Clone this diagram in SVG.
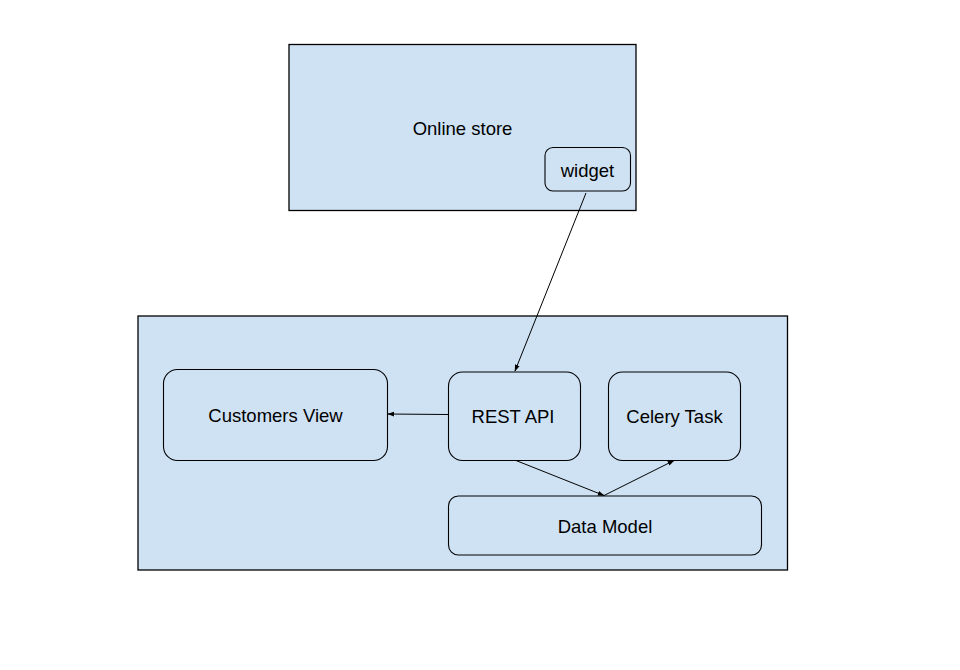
<svg xmlns="http://www.w3.org/2000/svg" width="960" height="670" viewBox="0 0 960 670">
<style>
.box{fill:#cfe2f3;stroke:#000;stroke-width:1.3}
.node{fill:#cfe2f3;stroke:#000;stroke-width:1.1}
.lbl{font-family:"Liberation Sans",Arial,sans-serif;font-size:18.5px;fill:#000;text-anchor:middle;dominant-baseline:central}
.conn{fill:none;stroke:#000;stroke-width:1;marker-end:url(#ah)}
</style>
<defs>
<marker id="ah" viewBox="0 0 10 10" refX="9" refY="5" markerWidth="7" markerHeight="7" orient="auto" markerUnits="userSpaceOnUse">
<path d="M0,1.5 L10,5 L0,8.5 z" fill="#000"/>
</marker>
</defs>
<rect width="960" height="670" fill="#fff"/>
<g id="online-store">
<rect class="box" x="289" y="44.5" width="347" height="166"/>
<text class="lbl" x="462.5" y="128">Online store</text>
</g>
<g id="widget">
<rect class="node" x="545" y="147.5" width="85.5" height="43.5" rx="8"/>
<text class="lbl" x="587.5" y="170">widget</text>
</g>
<g id="backend">
<rect class="box" x="138" y="316" width="649.5" height="254"/>
</g>
<g id="customers-view">
<rect class="node" x="163.5" y="369.5" width="224" height="91" rx="14"/>
<text class="lbl" x="275.5" y="415">Customers View</text>
</g>
<g id="rest-api">
<rect class="node" x="448.5" y="372" width="132" height="88.5" rx="14"/>
<text class="lbl" x="513" y="416">REST API</text>
</g>
<g id="celery-task">
<rect class="node" x="608.5" y="372" width="132" height="88.5" rx="14"/>
<text class="lbl" x="674.5" y="416">Celery Task</text>
</g>
<g id="data-model">
<rect class="node" x="448.5" y="496" width="313" height="59" rx="10"/>
<text class="lbl" x="605" y="526">Data Model</text>
</g>
<g id="connectors">
<line class="conn" x1="586" y1="193" x2="515" y2="371"/>
<line class="conn" x1="448" y1="414.5" x2="388" y2="414"/>
<line class="conn" x1="516" y1="460.5" x2="604" y2="495.5"/>
<line class="conn" x1="604" y1="495.5" x2="674" y2="460.5"/>
</g>
</svg>
